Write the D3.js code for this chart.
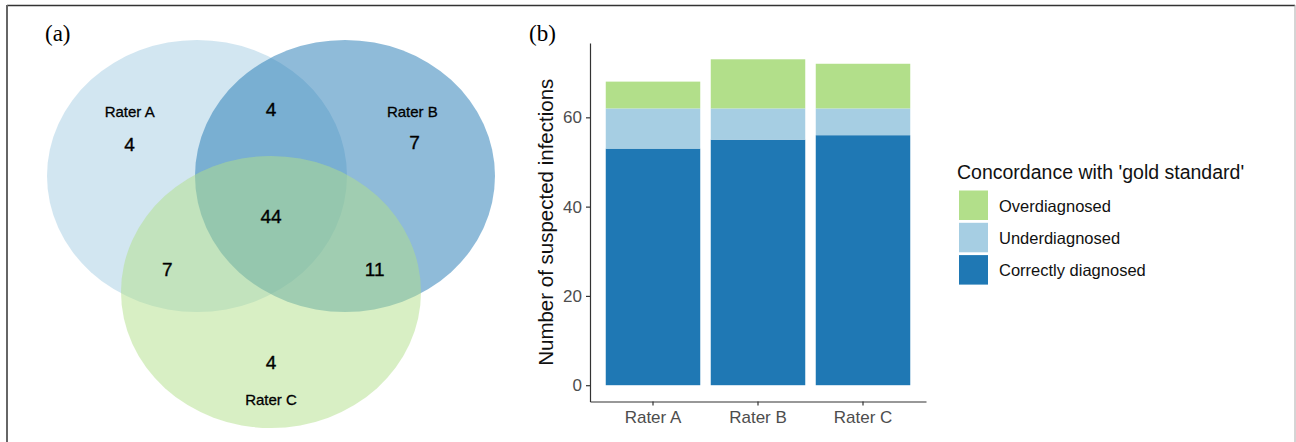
<!DOCTYPE html>
<html>
<head>
<meta charset="utf-8">
<script src="https://cdn.jsdelivr.net/npm/d3@7"></script>
<style>
  body { margin: 0; background: #fff; }
  svg { display: block; font-family: Arial, "Liberation Sans", sans-serif; }
</style>
</head>
<body>
<svg id="fig" width="1296" height="442"></svg>
<script>
// ---- Venn (a) ----
const vennSets = ['Rater A', 'Rater B', 'Rater C'];
const vennSetColors = ['#a6cee3', '#1f78b4', '#b2df8a'];
// region counts: A only, B only, C only, A&B, A&C, B&C, A&B&C
const vennRegions = ['A', 'B', 'C', 'AB', 'AC', 'BC', 'ABC'];
const vennCounts = [4, 7, 4, 4, 7, 11, 44];

// ---- Stacked bars (b) ----
const raters = ['Rater A', 'Rater B', 'Rater C'];
const correctlyDiagnosed = [53, 55, 56];
const underdiagnosed = [9, 7, 6];
const overdiagnosed = [6, 11, 10];
const legendLabels = ['Overdiagnosed', 'Underdiagnosed', 'Correctly diagnosed'];
const legendColors = ['#b2df8a', '#a6cee3', '#1f78b4'];
const yTicks = [0, 20, 40, 60];

const svg = d3.select('#fig');

// frame
svg.append('line').attr('x1', 7).attr('x2', 1295).attr('y1', 5.5).attr('y2', 5.5)
  .attr('stroke', '#333').attr('stroke-width', 1.5);
svg.append('line').attr('x1', 7).attr('x2', 7).attr('y1', 5).attr('y2', 442)
  .attr('stroke', '#666').attr('stroke-width', 2);
svg.append('line').attr('x1', 1295).attr('x2', 1295).attr('y1', 5).attr('y2', 442)
  .attr('stroke', '#aaa').attr('stroke-width', 1);

// panel tags
svg.append('text').attr('x', 45).attr('y', 41).text('(a)')
  .attr('font-family', '"Liberation Serif", "Times New Roman", serif').attr('font-size', 23);
svg.append('text').attr('x', 529).attr('y', 41).text('(b)')
  .attr('font-family', '"Liberation Serif", "Times New Roman", serif').attr('font-size', 23);

// Venn layout in unit space, mapped by linear scales
const vx = d3.scaleLinear().domain([0, 1]).range([197, 345]);
const vy = d3.scaleLinear().domain([0, 1]).range([176, 292]);
const vennCenters = [[0, 0], [1, 0], [0.5, 1]];
const rx = 150, ry = 136;

const venn = svg.append('g');
venn.selectAll('ellipse').data(vennSets).join('ellipse')
  .attr('cx', (d, i) => vx(vennCenters[i][0]))
  .attr('cy', (d, i) => vy(vennCenters[i][1]))
  .attr('rx', rx).attr('ry', ry)
  .attr('fill', (d, i) => vennSetColors[i])
  .attr('fill-opacity', 0.5);

// label positions of regions in unit space
const regionPos = {
  A: [-0.455, -0.27], B: [1.47, -0.285], C: [0.5, 1.61],
  AB: [0.5, -0.57], AC: [-0.2, 0.81], BC: [1.2, 0.81], ABC: [0.5, 0.35]
};
venn.selectAll('text.count').data(vennRegions).join('text')
  .attr('class', 'count')
  .attr('x', d => vx(regionPos[d][0]))
  .attr('y', d => vy(regionPos[d][1]))
  .attr('text-anchor', 'middle').attr('dominant-baseline', 'central')
  .attr('font-size', 19).attr('fill', '#000')
  .attr('stroke', '#000').attr('stroke-width', 0.35)
  .text((d, i) => vennCounts[i]);

const setLabelPos = [[-0.455, -0.56], [1.455, -0.56], [0.5, 1.93]];
venn.selectAll('text.setlab').data(vennSets).join('text')
  .attr('class', 'setlab')
  .attr('x', (d, i) => vx(setLabelPos[i][0]))
  .attr('y', (d, i) => vy(setLabelPos[i][1]))
  .attr('text-anchor', 'middle').attr('dominant-baseline', 'central')
  .attr('font-size', 15).attr('fill', '#000')
  .attr('stroke', '#000').attr('stroke-width', 0.3)
  .text(d => d);

// ---- bar chart ----
const x = d3.scaleBand().domain(raters).range([590, 926]).paddingInner(0.1).paddingOuter(0.15);
const y = d3.scaleLinear().domain([-3.65, 76.65]).range([401.5, 43]);

const keys = ['correct', 'under', 'over'];
const rows = raters.map((r, i) => ({
  rater: r, correct: correctlyDiagnosed[i], under: underdiagnosed[i], over: overdiagnosed[i]
}));
const stack = d3.stack().keys(keys)(rows);
const keyColor = { correct: '#1f78b4', under: '#a6cee3', over: '#b2df8a' };

const bars = svg.append('g');
bars.selectAll('g').data(stack).join('g')
  .attr('fill', d => keyColor[d.key])
  .selectAll('rect').data(d => d).join('rect')
  .attr('x', d => x(d.data.rater))
  .attr('width', x.bandwidth())
  .attr('y', d => y(d[1]))
  .attr('height', d => y(d[0]) - y(d[1]));

const yAxis = svg.append('g').attr('transform', 'translate(590,0)')
  .call(d3.axisLeft(y).tickValues(yTicks).tickSize(4).tickPadding(4).tickSizeOuter(0));
const xAxis = svg.append('g').attr('transform', 'translate(0,401.5)')
  .call(d3.axisBottom(x).tickSize(4).tickPadding(5).tickSizeOuter(0));
[yAxis, xAxis].forEach(a => {
  a.select('.domain').attr('stroke', '#333').attr('stroke-width', 1.2);
  a.selectAll('.tick line').attr('stroke', '#333').attr('stroke-width', 1.2);
  a.selectAll('.tick text').attr('fill', '#4d4d4d').attr('font-size', 17)
    .attr('font-family', 'Arial, "Liberation Sans", sans-serif');
});

svg.append('text')
  .attr('transform', `translate(553,${(43 + 401.5) / 2}) rotate(-90)`)
  .attr('text-anchor', 'middle')
  .attr('font-size', 20.5).attr('fill', '#111')
  .text('Number of suspected infections');

// legend
const legend = svg.append('g').attr('transform', 'translate(957,0)');
legend.append('text').attr('x', 0).attr('y', 179)
  .attr('font-size', 19.5).attr('fill', '#111')
  .text("Concordance with 'gold standard'");
legend.selectAll('rect').data(legendLabels).join('rect')
  .attr('x', 2).attr('y', (d, i) => 190.5 + i * 32.3)
  .attr('width', 29).attr('height', 29.5)
  .attr('fill', (d, i) => legendColors[i]);
legend.selectAll('text.lab').data(legendLabels).join('text')
  .attr('class', 'lab')
  .attr('x', 42).attr('y', (d, i) => 205.5 + i * 32.3)
  .attr('dominant-baseline', 'central')
  .attr('font-size', 16.5).attr('fill', '#111')
  .text(d => d);
</script>
</body>
</html>
